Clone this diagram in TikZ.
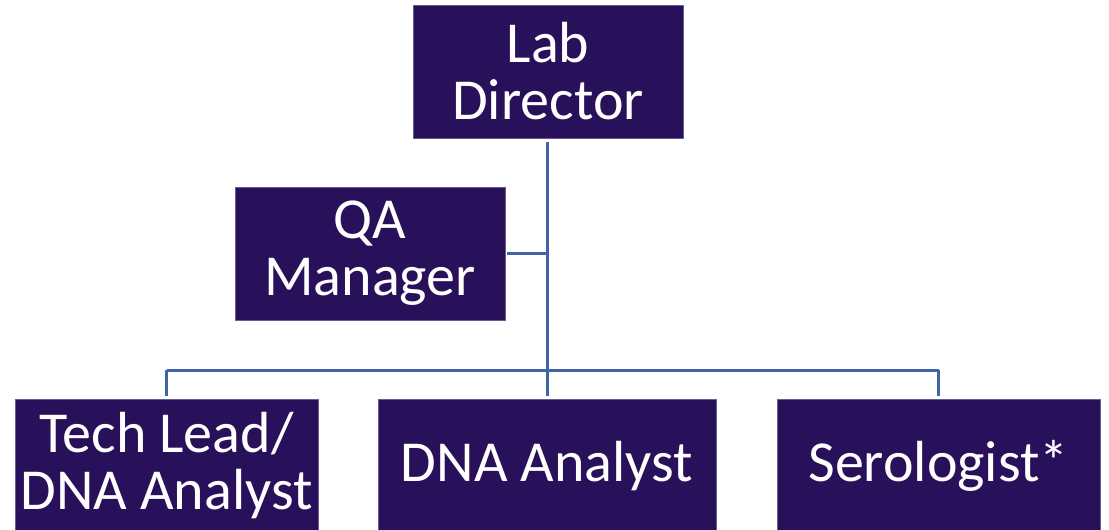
\documentclass[tikz,border=0pt]{standalone}
\usepackage{fontspec}
\setmainfont{Carlito}
\definecolor{boxfill}{HTML}{29105A}
\definecolor{boxline}{HTML}{6A5C8C}
\definecolor{conncol}{HTML}{3F64A8}
\begin{document}
\begin{tikzpicture}[x=1pt,y=-1pt,
  box/.style={draw=boxline, line width=0.8pt, fill=boxfill, text=white, inner sep=0pt, align=center,
    font=\fontsize{58}{57}\selectfont},
  conn/.style={draw=conncol, line width=3pt}]
\useasboundingbox (0,0) rectangle (1109,530);
\begin{scope}
\clip (0,0) rectangle (1109,530);
\node[box, minimum width=270pt, minimum height=133pt] (ld) at (548,71.5) {Lab\\Director};
\node[box, minimum width=270pt, minimum height=133pt] (qa) at (370,253.5) {QA\\Manager};
\node[box, minimum width=303pt, minimum height=134pt] (tl) at (166.5,466) {Tech Lead/\\DNA Analyst};
\node[box, minimum width=338pt, minimum height=134pt] (dna) at (547,466) {DNA Analyst};
\node[box, minimum width=323pt, minimum height=134pt] (se) at (938.5,466) {Serologist*};
\coordinate (bar) at (547,370);
\draw[conn] ([yshift=-4pt]ld.south -| bar) -- (bar);
\draw[conn] ([xshift=2pt]qa.east) -- (qa.east -| bar);
\draw[conn] (tl.north |- bar) -- (se.north |- bar);
\draw[conn] (tl.north |- bar) -- ([yshift=3pt]tl.north);
\draw[conn] (dna.north |- bar) -- ([yshift=3pt]dna.north);
\draw[conn] (se.north |- bar) -- ([yshift=3pt]se.north);
\end{scope}
\end{tikzpicture}
\end{document}
